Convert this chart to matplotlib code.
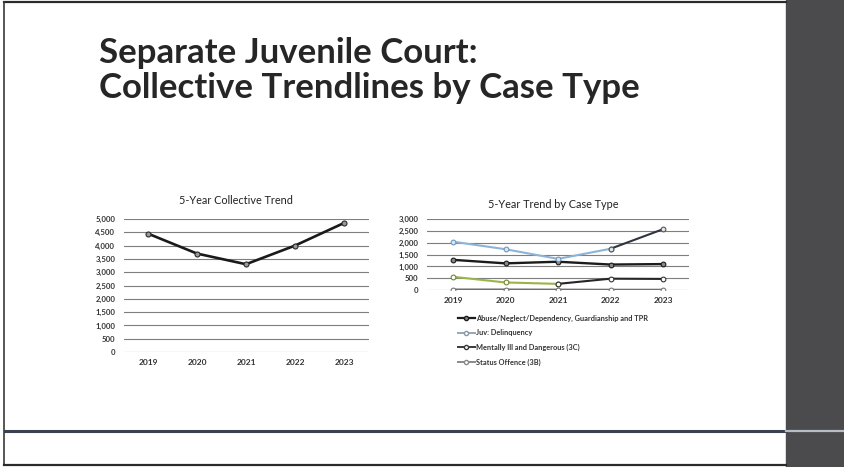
#!/usr/bin/env python3
"""Slide: collective and per-case-type five year trends for the juvenile court."""

import matplotlib

matplotlib.use("Agg")
import matplotlib.pyplot as plt
from matplotlib.lines import Line2D
from matplotlib.patches import Rectangle

W, H = 844, 467

years = ["2019", "2020", "2021", "2022", "2023"]
collective_total = [4450, 3700, 3300, 4000, 4850]

case_types = [
    "Abuse/Neglect/Dependency, Guardianship and TPR",
    "Juv: Delinquency",
    "Mentally Ill and Dangerous (3C)",
    "Status Offence (3B)",
]
abuse_neglect = [1280, 1130, 1200, 1080, 1100]
delinquency = [2050, 1730, 1320, 1750, 2580]
mentally_ill = [560, 320, 260, 480, 470]
status_offence = [20, 20, 15, 10, 10]

left_yticks = list(range(0, 5001, 500))
right_yticks = list(range(0, 3001, 500))

plt.rcParams["font.family"] = ["Lato", "DejaVu Sans"]


def px_axes(fig, x0, y0, x1, y1):
    """Axes placed by pixel box (top-left origin)."""
    return fig.add_axes([x0 / W, 1 - y1 / H, (x1 - x0) / W, (y1 - y0) / H])


def style_chart(ax, yticks, ymax):
    ax.set_xlim(-0.5, len(years) - 0.5)
    ax.set_ylim(0, ymax)
    ax.set_yticks(yticks)
    ax.set_yticklabels([f"{v:,}" for v in yticks], fontsize=5.6, fontweight="bold", color="#333333")
    ax.set_xticks(range(len(years)))
    ax.set_xticklabels(years, fontsize=6.0, fontweight="bold", color="#333333")
    ax.tick_params(axis="y", length=0, pad=6)
    ax.tick_params(axis="x", length=0, pad=5)
    ax.grid(axis="y", color="#7e7e7e", linewidth=0.8)
    ax.set_axisbelow(True)
    for side in ax.spines.values():
        side.set_visible(False)
    ax.patch.set_alpha(0)


fig = plt.figure(figsize=(W / 100, H / 100), dpi=100)
fig.patch.set_facecolor("white")

# slide frame and dark side panel
bg = fig.add_axes([0, 0, 1, 1])
bg.set_xlim(0, W)
bg.set_ylim(H, 0)
bg.axis("off")
bg.add_patch(Rectangle((786, 0), W - 786, H, color="#4b4b4d", zorder=1))
bg.plot([4, 786], [2, 2], color="#2a2a2a", linewidth=1.6)
bg.plot([4, 4], [2, 465], color="#3a3a3a", linewidth=1.2)
bg.plot([4, 786], [465, 465], color="#2a2a2a", linewidth=1.6)
bg.plot([5, 786], [431, 431], color="#3c4150", linewidth=2.2)
bg.plot([786, 844], [431, 431], color="#b8bcc6", linewidth=1.6, zorder=2)

fig.text(99 / W, 1 - 63 / H, "Separate Juvenile Court:", fontsize=25, fontweight="bold",
         color="#262626", va="baseline", ha="left")
fig.text(99 / W, 1 - 98 / H, "Collective Trendlines by Case Type", fontsize=25, fontweight="bold",
         color="#262626", va="baseline", ha="left")

# left: collective trend
ax1 = px_axes(fig, 123.5, 219, 368.5, 352)
style_chart(ax1, left_yticks, 5000)
ax1.plot(range(len(years)), collective_total, color="#1a1a1a", linewidth=1.9, marker="o",
         markersize=3.6, markerfacecolor="#9a9a9a", markeredgecolor="#2a2a2a", markeredgewidth=0.8)
fig.text(236 / W, 1 - 201 / H, "5-Year Collective Trend", fontsize=7.8, color="#222222",
         ha="center", va="center")

# right: trend by case type
ax2 = px_axes(fig, 426.75, 219.3, 689.25, 290)
style_chart(ax2, right_yticks, 3000)
x = list(range(len(years)))
ax2.plot(x, abuse_neglect, color="#1c1c1c", linewidth=1.7, marker="o", markersize=3.4,
         markerfacecolor="#8a8a8a", markeredgecolor="#1c1c1c", markeredgewidth=0.8, zorder=3)
ax2.plot(x[:4], delinquency[:4], color="#8db3d6", linewidth=1.5, marker="o", markersize=3.4,
         markerfacecolor="#d8e6f2", markeredgecolor="#6f97bd", markeredgewidth=0.8, zorder=3)
ax2.plot(x[3:], delinquency[3:], color="#2f3440", linewidth=1.5, marker="o", markersize=3.4,
         markerfacecolor="#e6e6e6", markeredgecolor="#555555", markeredgewidth=0.8, zorder=3)
ax2.plot(x[:3], mentally_ill[:3], color="#9bb44a", linewidth=1.5, marker="o", markersize=3.4,
         markerfacecolor="#ffffff", markeredgecolor="#6f8a2a", markeredgewidth=0.8, zorder=3)
ax2.plot(x[2:], mentally_ill[2:], color="#262626", linewidth=1.5, marker="o", markersize=3.4,
         markerfacecolor="#ffffff", markeredgecolor="#333333", markeredgewidth=0.8, zorder=3)
ax2.plot(x, status_offence, color="#6e6e6e", linewidth=1.5, marker="o", markersize=3.4,
         markerfacecolor="#ffffff", markeredgecolor="#777777", markeredgewidth=0.8, zorder=3)
fig.text(553 / W, 1 - 204 / H, "5-Year Trend by Case Type", fontsize=7.8, color="#222222",
         ha="center", va="center")

handles = [
    Line2D([], [], color="#1c1c1c", linewidth=1.6, marker="o", markersize=3,
           markerfacecolor="#8a8a8a", markeredgecolor="#1c1c1c"),
    Line2D([], [], color="#9aa6b2", linewidth=1.4, marker="o", markersize=3,
           markerfacecolor="#ffffff", markeredgecolor="#8a96a2"),
    Line2D([], [], color="#3a3a3a", linewidth=1.4, marker="o", markersize=3,
           markerfacecolor="#ffffff", markeredgecolor="#3a3a3a"),
    Line2D([], [], color="#8a8a8a", linewidth=1.4, marker="o", markersize=3,
           markerfacecolor="#ffffff", markeredgecolor="#8a8a8a"),
]
leg = fig.legend(handles, case_types, loc="upper left", bbox_to_anchor=(458 / W, 1 - 315 / H),
                 frameon=False, fontsize=5.3, handlelength=2.3, handletextpad=0.2,
                 labelspacing=1.0, borderaxespad=0, borderpad=0)
for t in leg.get_texts():
    t.set_fontweight("bold")
    t.set_color("#333333")

fig.savefig("out.png", dpi=100)
